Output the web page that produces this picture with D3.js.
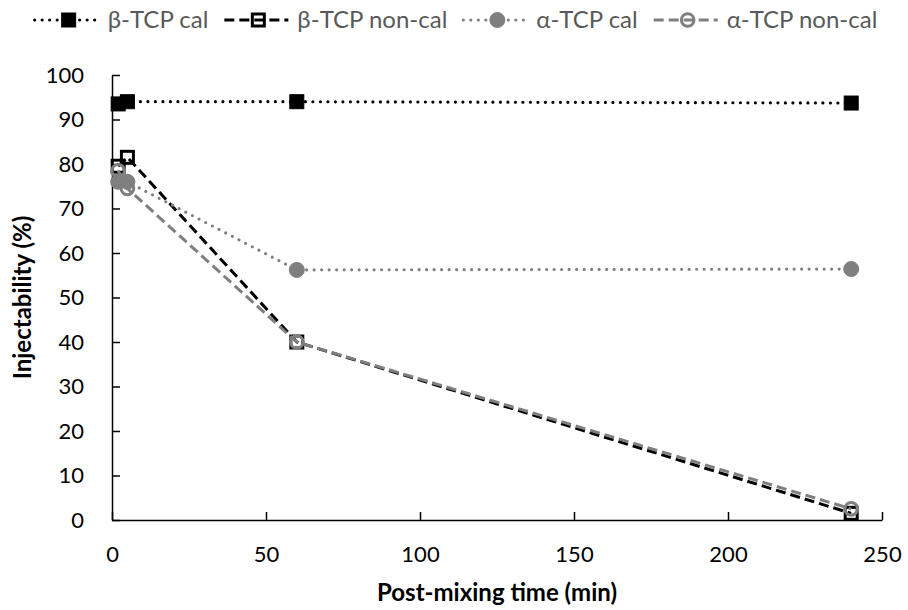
<!DOCTYPE html>
<html lang="en">
<script src='https://d3js.org/d3.v7.min.js'></script>
<style>
  body { margin: 0; background: #fff; }
  text { font-family: Lato, "Open Sans", sans-serif; }
</style>
<body>
<svg width=908 height=610></svg>
<script>
    // post-mixing time (min)
    var times = [2, 5, 60, 240];
    // injectability (%) per series
    var betaCal = [93.5, 94, 94, 93.7];
    var betaNonCal = [79.5, 81.5, 40, 1.5];
    var alphaCal = [76, 76, 56.2, 56.4];
    var alphaNonCal = [78.5, 74.5, 40, 2.5];
    var seriesNames = ["β-TCP cal", "β-TCP non-cal", "α-TCP cal", "α-TCP non-cal"];
    var xTicks = [0, 50, 100, 150, 200, 250];
    var yTicks = [0, 10, 20, 30, 40, 50, 60, 70, 80, 90, 100];

    var black = "#000", grey = "#7f7f7f";
    // style of each series: line colour, dash, marker shape, filled?
    var styles = [
        {color: black, dash: "dot", shape: "square", filled: true},
        {color: black, dash: "dash", shape: "square", filled: false},
        {color: grey, dash: "dot", shape: "circle", filled: true},
        {color: grey, dash: "dash", shape: "circle", filled: false}
    ];
    var values = [betaCal, betaNonCal, alphaCal, alphaNonCal];

    var plotLeft = 112, plotRight = 882, plotTop = 75, plotBottom = 520;
    var x = d3.scaleLinear().domain([0, 250]).range([plotLeft, plotRight]);
    var y = d3.scaleLinear().domain([0, 100]).range([plotBottom, plotTop]);

    var svg = d3.select("svg");

    // AXES
    var xAxis = svg.append("g")
        .attr("transform", "translate(0," + plotBottom + ")")
        .call(d3.axisBottom(x).tickValues(xTicks).tickSizeInner(-8).tickSizeOuter(0).tickPadding(26));
    var yAxis = svg.append("g")
        .attr("transform", "translate(" + plotLeft + ",0)")
        .call(d3.axisLeft(y).tickValues(yTicks).tickSizeInner(-8).tickSizeOuter(0).tickPadding(28));
    [xAxis, yAxis].forEach(function (a) {
        a.select(".domain").attr("stroke", "#000").attr("stroke-width", 1.5);
        a.selectAll(".tick line").attr("stroke", "#000").attr("stroke-width", 1.5);
        a.selectAll(".tick text").attr("fill", "#000").style("font-size", "22px")
            .style("font-family", "Lato, sans-serif");
    });

    svg.append("text")
        .attr("x", (plotLeft + plotRight) / 2).attr("y", 601)
        .attr("text-anchor", "middle")
        .style("font-size", "24px").style("font-weight", "bold")
        .text("Post-mixing time (min)");
    svg.append("text")
        .attr("transform", "translate(31," + ((plotTop + plotBottom) / 2) + ") rotate(-90)")
        .attr("text-anchor", "middle")
        .style("font-size", "24px").style("font-weight", "bold")
        .text("Injectability (%)");

    function lineStyle(sel, s) {
        sel.attr("fill", "none")
            .attr("stroke", s.color)
            .attr("stroke-width", s.dash == "dot" ? 3.2 : 3)
            .attr("stroke-linecap", s.dash == "dot" ? "round" : "butt")
            .attr("stroke-dasharray", s.dash == "dot" ? "0,7.5" : "10,5");
    }
    function drawMarker(g, s, cx, cy) {
        var m;
        if (s.shape == "square") {
            var w = s.filled ? 14 : 12;
            m = g.append("rect").attr("x", cx - w / 2).attr("y", cy - w / 2)
                .attr("width", w).attr("height", w);
        } else {
            m = g.append("circle").attr("cx", cx).attr("cy", cy).attr("r", s.filled ? 7.5 : 6.3);
        }
        if (s.filled) m.attr("fill", s.color).attr("stroke", s.color).attr("stroke-width", 1);
        else m.attr("fill", "none").attr("stroke", s.color).attr("stroke-width", 3);
    }

    // SERIES
    var line = d3.line().x(function (d) { return x(d[0]); }).y(function (d) { return y(d[1]); });
    values.forEach(function (vals, i) {
        var s = styles[i];
        var pts = times.map(function (t, j) { return [t, vals[j]]; });
        var g = svg.append("g");
        g.append("path").datum(pts).attr("d", line).call(lineStyle, s);
        pts.forEach(function (p) { drawMarker(g, s, x(p[0]), y(p[1])); });
    });

    // LEGEND
    var legend = svg.append("g");
    var lx = 0, ly = 20;
    seriesNames.forEach(function (name, i) {
        var s = styles[i];
        var g = legend.append("g");
        g.append("line").attr("x1", lx).attr("x2", lx + 64).attr("y1", ly).attr("y2", ly).call(lineStyle, s);
        drawMarker(g, s, lx + 34, ly);
        var t = g.append("text").attr("x", lx + 73).attr("y", ly + 8)
            .attr("fill", "#595959").style("font-size", "24px").text(name);
        lx += 73 + t.node().getComputedTextLength() + 16;
    });
    var lw = lx - 16;
    legend.attr("transform", "translate(" + (456 - lw / 2) + ",0)");
</script>
</body>
</html>
